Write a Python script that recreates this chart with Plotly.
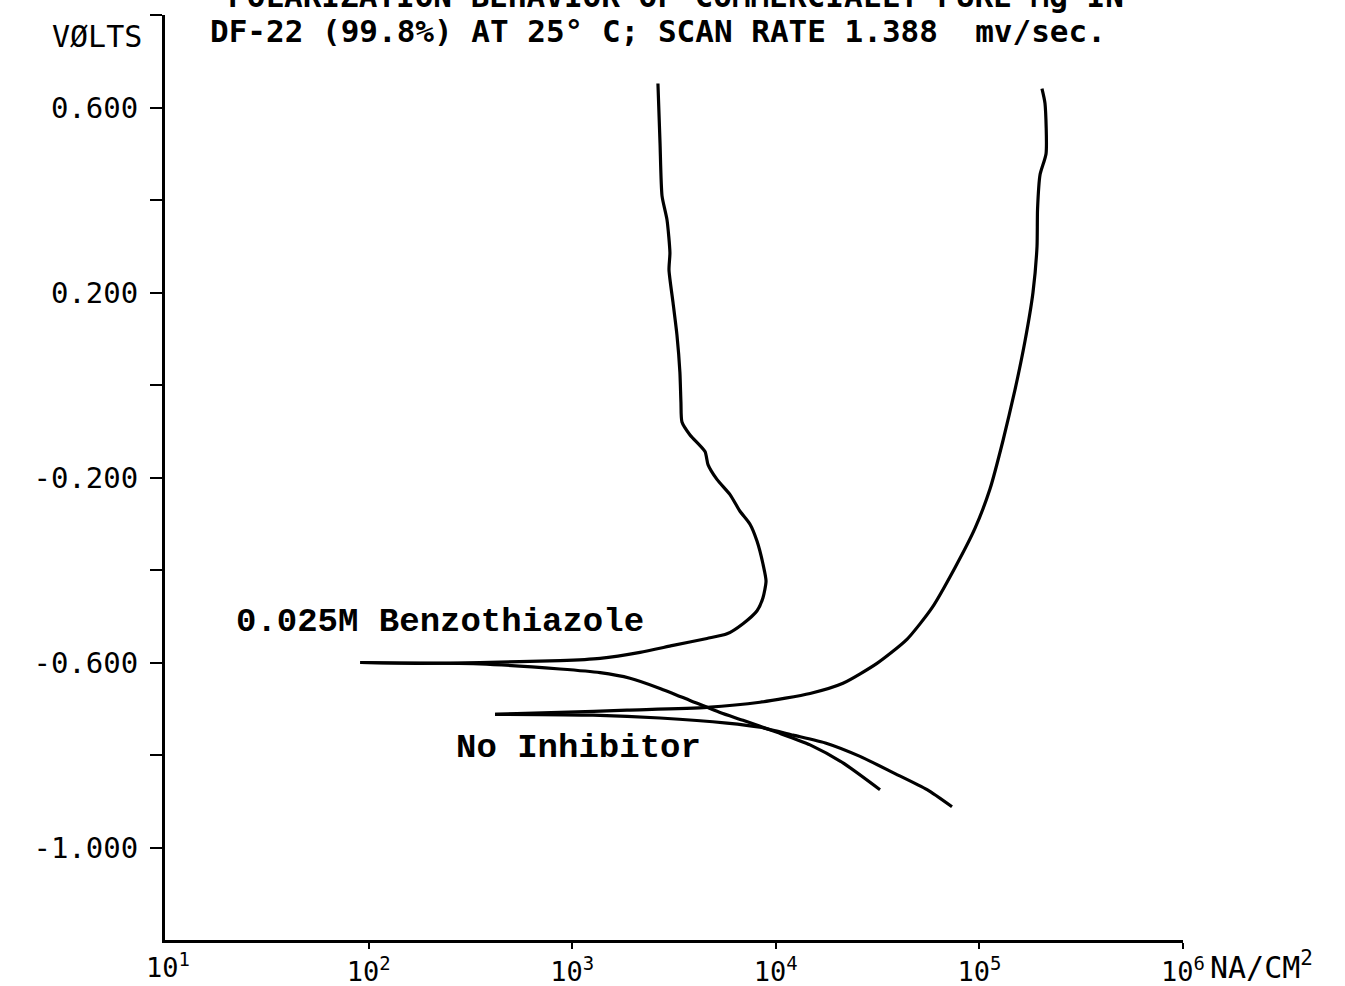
import plotly.graph_objects as go

# ---- data (current density in nA/cm^2, potential in volts) ----
bt_anodic_i = [91, 179, 352, 871, 1371, 2154, 3128, 4594, 5758, 6900, 8090, 8650, 8955,
               8650, 8090, 7470, 6670, 5960, 5140, 4645, 4490, 3790, 3460, 3420, 3380,
               3270, 3128, 2988, 3020, 2922, 2762, 2700, 2637]
bt_anodic_e = [-0.600, -0.602, -0.600, -0.596, -0.591, -0.578, -0.563, -0.548, -0.538, -0.516,
               -0.488, -0.460, -0.424, -0.387, -0.338, -0.301, -0.273, -0.237, -0.204, -0.172,
               -0.144, -0.108, -0.080, -0.037, 0.028, 0.108, 0.178, 0.249, 0.286, 0.357,
               0.409, 0.523, 0.652]

bt_cathodic_i = [91, 352, 871, 1371, 1923, 2698, 3790, 5321, 6900, 10140, 14730, 21380, 32500]
bt_cathodic_e = [-0.600, -0.603, -0.614, -0.622, -0.634, -0.656, -0.682, -0.708, -0.725,
                 -0.751, -0.778, -0.817, -0.875]

ni_anodic_i = [418, 871, 1858, 4594, 8360, 14730, 21380, 31400, 44060, 58480, 75860, 95100,
               112700, 130600, 149600, 167500, 183300, 191900, 193000, 198600, 212500,
               210000, 202900]
ni_anodic_e = [-0.712, -0.708, -0.703, -0.697, -0.686, -0.667, -0.645, -0.602, -0.550, -0.482,
               -0.395, -0.310, -0.225, -0.120, -0.010, 0.095, 0.200, 0.300, 0.380, 0.455,
               0.500, 0.609, 0.641]

ni_cathodic_i = [418, 1265, 2698, 5758, 8360, 12140, 17830, 25920, 37640, 55330, 73350]
ni_cathodic_e = [-0.712, -0.714, -0.720, -0.731, -0.740, -0.757, -0.775, -0.803, -0.838,
                 -0.875, -0.912]

x_tick_vals = [1e2, 1e3, 1e4, 1e5, 1e6]
x_tick_text = ["10<sup>2</sup>", "10<sup>3</sup>", "10<sup>4</sup>", "10<sup>5</sup>", "10<sup>6</sup>"]
y_tick_vals = [0.6, 0.2, -0.2, -0.6, -1.0]
y_tick_text = ["0.600", "0.200", "-0.200", "-0.600", "-1.000"]
y_minor_vals = [0.8, 0.4, 0.0, -0.4, -0.8]

title_line1 = "POLARIZATION BEHAVIOR OF COMMERCIALLY PURE Mg IN"
title_line2 = "DF-22 (99.8%) AT 25° C; SCAN RATE 1.388\u00a0\u00a0mv/sec."

# ---- figure ----
W, H = 1345, 986
L, R, T, B = 165, 162, 15, 46
pw, ph = W - L - R, H - T - B

def px(x):
    return (x - L) / pw

def py(y):
    return (H - B - y) / ph

fig = go.Figure()
line = dict(color="black", width=3.2)
for xs, ys in [(bt_anodic_i, bt_anodic_e), (bt_cathodic_i, bt_cathodic_e),
               (ni_anodic_i, ni_anodic_e), (ni_cathodic_i, ni_cathodic_e)]:
    fig.add_trace(go.Scatter(x=xs, y=ys, mode="lines", line=line,
                             line_shape="spline", line_smoothing=0.6,
                             showlegend=False, hoverinfo="skip"))

mono = "DejaVu Sans Mono"
fig.update_layout(
    width=W, height=H,
    margin=dict(l=L, r=R, t=T, b=B, pad=0),
    paper_bgcolor="white", plot_bgcolor="white",
    xaxis=dict(type="log", range=[1, 6], showgrid=False, zeroline=False, automargin=False,
               showline=True, linecolor="black", linewidth=3,
               ticks="outside", ticklen=6, tickwidth=2, tickcolor="black",
               tickvals=x_tick_vals, ticktext=x_tick_text,
               tickfont=dict(family=mono, size=27, color="black")),
    yaxis=dict(range=[-1.2, 0.8], showgrid=False, zeroline=False, automargin=False,
               showline=True, linecolor="black", linewidth=3,
               ticks="outside", ticklen=12, tickwidth=2, tickcolor="black",
               tickvals=y_tick_vals, ticktext=y_tick_text, ticklabelstandoff=6,
               tickfont=dict(family=mono, size=29, color="black"),
               minor=dict(tickvals=y_minor_vals, ticks="outside", ticklen=12, tickwidth=2,
                          tickcolor="black", showgrid=False)),
)

ann = []
# title lines (first partially cut at top, as in the original scan)
ann.append(dict(text=title_line1, xref="paper", yref="paper", x=px(226), y=py(-4),
                xanchor="left", yanchor="middle", showarrow=False,
                font=dict(family=mono, size=31, color="black", weight="bold")))
ann.append(dict(text=title_line2, xref="paper", yref="paper", x=px(208), y=py(31),
                xanchor="left", yanchor="middle", showarrow=False,
                font=dict(family=mono, size=31, color="black", weight="bold")))
# y axis title
ann.append(dict(text="VØLTS", xref="paper", yref="paper", x=px(144), y=py(37),
                xanchor="right", yanchor="middle", showarrow=False,
                font=dict(family=mono, size=30, color="black")))
# 10^1 label at origin and units
ann.append(dict(text="10<sup>1</sup>", xref="paper", yref="paper", x=px(L + 3), y=py(966),
                xanchor="center", yanchor="middle", showarrow=False,
                font=dict(family=mono, size=27, color="black")))
ann.append(dict(text="NA/CM<sup>2</sup>", xref="paper", yref="paper", x=px(1208), y=py(966),
                xanchor="left", yanchor="middle", showarrow=False,
                font=dict(family=mono, size=30, color="black")))
# curve labels
ann.append(dict(text="0.025M Benzothiazole", xref="paper", yref="paper", x=px(234), y=py(622),
                xanchor="left", yanchor="middle", showarrow=False,
                font=dict(family="Liberation Mono", size=34, color="black", weight="bold")))
ann.append(dict(text="No Inhibitor", xref="paper", yref="paper", x=px(454), y=py(748),
                xanchor="left", yanchor="middle", showarrow=False,
                font=dict(family="Liberation Mono", size=34, color="black", weight="bold")))
fig.update_layout(annotations=ann)

fig.write_html("out.html")
